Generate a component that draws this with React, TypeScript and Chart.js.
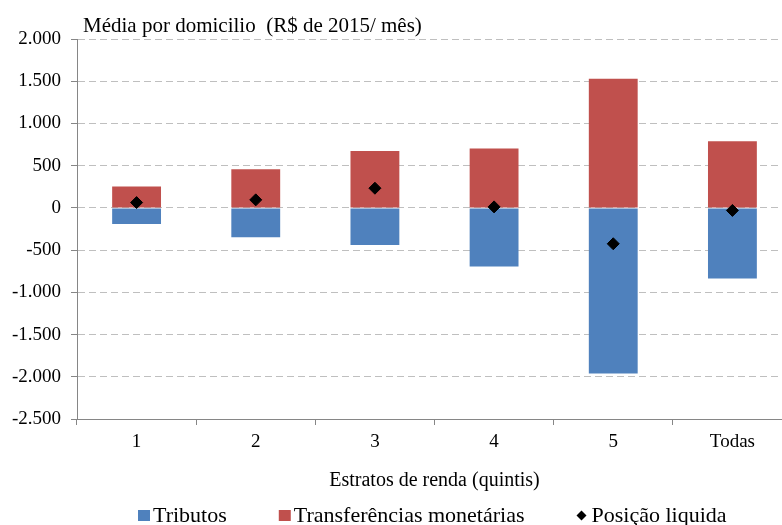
import { useEffect, useRef } from "react";
import { Chart, registerables } from "chart.js";

Chart.register(...registerables);

const categories = ["1", "2", "3", "4", "5", "Todas"];
const tributos = [-190, -347, -438, -695, -1960, -835];
const transferencias = [252, 458, 675, 702, 1530, 790];
const posicaoLiquida = [63, 95, 233, 12, -425, -30];
const yTickValues = [2000, 1500, 1000, 500, 0, -500, -1000, -1500, -2000, -2500];
const seriesNames = ["Tributos", "Transferências monetárias", "Posição liquida"];
const chartTitle = "Média por domicilio  (R$ de 2015/ mês)";
const xAxisTitle = "Estratos de renda (quintis)";

const FAMILY = "'Liberation Serif', 'Times New Roman', Times, serif";
const BLUE = "#4F81BD";
const RED = "#C0504D";
const AXIS = "#868686";
const GRID = "#BFBFBF";

const fmt = (v: number) => {
  const s = Math.abs(v)
    .toString()
    .replace(/\B(?=(\d{3})+(?!\d))/g, ".");
  return (v < 0 ? "-" : "") + s;
};

const annotationsPlugin = {
  id: "customTexts",
  afterDraw(chart: any) {
    const { ctx, chartArea } = chart;
    ctx.save();
    // chart title inside top-left
    ctx.fillStyle = "#000";
    ctx.textBaseline = "alphabetic";
    ctx.textAlign = "left";
    ctx.font = `21px ${FAMILY}`;
    ctx.fillText(chartTitle, chartArea.left + 6, chartArea.top - 7);

    // legend
    ctx.font = `22px ${FAMILY}`;
    const baseY = chart.height - 18;
    const midY = baseY - 6.5;
    let x = chartArea.left + 61;
    const gap = 52;
    const colors = [BLUE, RED];
    for (let i = 0; i < 3; i++) {
      if (i < 2) {
        ctx.fillStyle = colors[i];
        ctx.fillRect(x, midY - 5.5, 12, 11);
      } else {
        ctx.fillStyle = "#000";
        ctx.beginPath();
        const cx = x + 5;
        ctx.moveTo(cx, midY - 5);
        ctx.lineTo(cx + 5, midY);
        ctx.lineTo(cx, midY + 5);
        ctx.lineTo(cx - 5, midY);
        ctx.closePath();
        ctx.fill();
      }
      const tx = x + 15;
      ctx.fillStyle = "#000";
      ctx.fillText(seriesNames[i], tx, baseY);
      x = tx + ctx.measureText(seriesNames[i]).width + gap;
    }
    ctx.restore();
  },
};

export default function App() {
  const ref = useRef<HTMLCanvasElement | null>(null);

  useEffect(() => {
    if (!ref.current) return;
    const chart = new Chart(ref.current, {
      type: "bar",
      data: {
        labels: categories,
        datasets: [
          {
            label: seriesNames[0],
            data: tributos,
            backgroundColor: BLUE,
            borderWidth: 0,
            barPercentage: 0.41,
            categoryPercentage: 1,
            order: 2,
          },
          {
            label: seriesNames[1],
            data: transferencias,
            backgroundColor: RED,
            borderWidth: 0,
            barPercentage: 0.41,
            categoryPercentage: 1,
            order: 2,
          },
          {
            type: "line" as any,
            label: seriesNames[2],
            data: posicaoLiquida,
            showLine: false,
            pointStyle: "rectRot",
            pointRadius: 6,
            pointBorderWidth: 1,
            backgroundColor: "#000",
            borderColor: "#000",
            order: 1,
          } as any,
        ],
      },
      options: {
        responsive: false,
        animation: false,
        layout: { padding: { top: 39, right: 18, left: 0, bottom: 0 } },
        plugins: {
          legend: { display: false },
          title: { display: false },
          tooltip: { enabled: false },
        },
        scales: {
          x: {
            stacked: true,
            offset: true,
            grid: {
              display: true,
              drawOnChartArea: false,
              drawTicks: true,
              tickLength: 6,
              tickColor: AXIS,
              offset: true,
            },
            border: { display: true, color: AXIS, width: 1 },
            ticks: {
              font: { family: FAMILY, size: 19 },
              color: "#000",
              padding: 6,
              maxRotation: 0,
            },
            title: {
              display: true,
              text: xAxisTitle,
              font: { family: FAMILY, size: 20 },
              color: "#000",
              padding: { top: 0, bottom: 47 },
            },
            afterFit: (s: any) => {
              s.height = 121;
            },
          },
          y: {
            stacked: true,
            min: -2500,
            max: 2000,
            afterBuildTicks: (s: any) => {
              s.ticks = yTickValues.map((v) => ({ value: v }));
            },
            grid: {
              color: (c: any) =>
                c.tick && c.tick.value === -2500 ? "rgba(0,0,0,0)" : GRID,
              lineWidth: 1,
              tickLength: 6,
              tickColor: AXIS,
              tickBorderDash: [],
            },
            border: { display: true, color: AXIS, width: 1, dash: [7, 4] },
            ticks: {
              font: { family: FAMILY, size: 19 },
              color: "#000",
              padding: 10,
              callback: (v: any) => fmt(Number(v)),
            },
            afterFit: (s: any) => {
              s.width = 77;
            },
          },
        },
      },
      plugins: [annotationsPlugin],
    });
    return () => chart.destroy();
  }, []);

  return (
    <div
      style={{
        position: "absolute",
        left: 0,
        top: 0,
        width: 782,
        height: 525,
        overflow: "hidden",
        background: "#fff",
      }}
    >
      <canvas ref={ref} width={810} height={540} style={{ display: "block" }} />
    </div>
  );
}
